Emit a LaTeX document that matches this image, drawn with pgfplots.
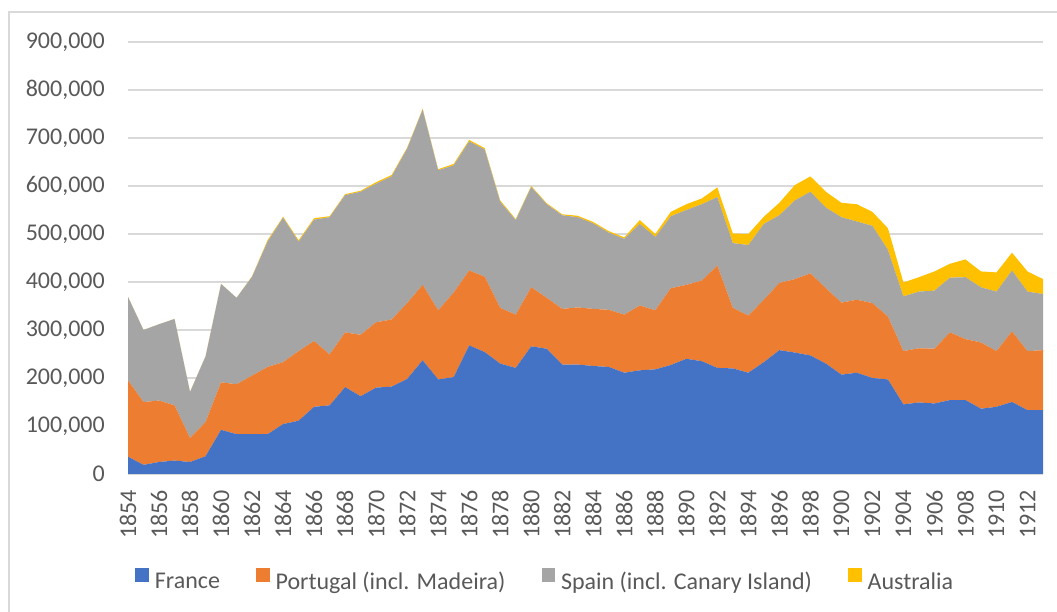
\documentclass[border=0pt]{standalone}
\usepackage{pgfplots}
\usepackage{pgfplotstable}
\pgfplotsset{compat=1.18}
\usepackage{fontspec}
\setmainfont{Carlito}
\definecolor{cFr}{HTML}{4472C4}
\definecolor{cPt}{HTML}{ED7D31}
\definecolor{cSp}{HTML}{A5A5A5}
\definecolor{cAu}{HTML}{FFC000}
\definecolor{grid}{HTML}{D9D9D9}
\definecolor{txt}{HTML}{595959}
\pgfplotstableread{
year France Portugal Spain Australia
1854 36000 159000 174000 0
1855 19000 131000 150000 0
1856 25000 128000 159000 0
1857 28000 115000 180000 0
1858 25000 50000 96000 0
1859 37000 71000 137000 0
1860 92000 99000 205000 0
1861 83000 104000 180000 0
1862 83000 122000 206000 1000
1863 83000 140000 261000 3000
1864 104000 129000 301000 2000
1865 111000 145000 228000 3000
1866 140000 137000 253000 3000
1867 143000 106000 286000 2000
1868 181000 114000 286000 2000
1869 162000 128000 298000 2000
1870 180000 136000 289000 3000
1871 182000 140000 298000 3000
1872 198000 158000 322000 2000
1873 237000 157000 365000 2000
1874 197000 144000 292000 2000
1875 202000 176000 265000 3000
1876 268000 156000 269000 3000
1877 254000 157000 265000 3000
1878 230000 116000 221000 3000
1879 221000 111000 197000 2000
1880 266000 123000 209000 2000
1881 261000 106000 195000 2000
1882 228000 116000 195000 2000
1883 228000 119000 188000 3000
1884 225000 119000 178000 3000
1885 223000 119000 161000 3000
1886 211000 121000 158000 3000
1887 216000 135000 170000 8000
1888 218000 123000 153000 6000
1889 227000 160000 150000 9000
1890 240000 154000 156000 12000
1891 235000 168000 159000 12000
1892 221000 213000 143000 20000
1893 220000 126000 135000 20000
1894 211000 119000 147000 23000
1895 233000 130000 158000 15000
1896 258000 140000 141000 26000
1897 253000 153000 164000 32000
1898 247000 171000 170000 32000
1899 230000 157000 168000 33000
1900 207000 150000 178000 30000
1901 211000 152000 163000 36000
1902 200000 156000 161000 29000
1903 197000 131000 139000 45000
1904 145000 111000 114000 29000
1905 149000 113000 118000 30000
1906 147000 114000 121000 40000
1907 154000 141000 114000 29000
1908 154000 127000 129000 37000
1909 136000 138000 115000 33000
1910 140000 116000 124000 40000
1911 150000 147000 127000 37000
1912 133000 123000 124000 42000
1913 133000 125000 117000 31000
}\datatable
\begin{document}
\begin{tikzpicture}[x=1pt,y=1pt]
\path[use as bounding box] (0,0) rectangle (1057,612);
\draw[grid, line width=1.3pt] (9,0) -- (9,600) -- (1057,600);
\begin{axis}[
  at={(128pt,138pt)}, anchor=south west,
  scale only axis, width=915pt, height=432pt,
  xmin=1854, xmax=1913, ymin=0, ymax=900000,
  stack plots=y,
  xtick={1854,1856,...,1912},
  ytick={0,100000,...,900000},
  scaled y ticks=false,
  major tick length=0pt,
  separate axis lines,
  x axis line style={draw=grid, line width=1.3pt},
  y axis line style={draw=none},
  ymajorgrids,
  grid style={draw=grid, line width=1.3pt},
  /pgf/number format/assume math mode=true,
  yticklabel style={/pgf/number format/.cd, fixed, 1000 sep={,}, /tikz/.cd, font=\fontsize{24}{24}\selectfont, text=txt, inner sep=0pt},
  yticklabel shift=23pt,
  xticklabel style={/pgf/number format/.cd, 1000 sep={}, /tikz/.cd, rotate=90, anchor=east, font=\fontsize{24}{24}\selectfont, text=txt, inner sep=0pt},
  xticklabel shift=16pt,
  legend columns=4,
  legend style={at={(0.455,-0.245)}, anchor=center, draw=none, fill=none,
    font=\fontsize{24}{24}\selectfont, text=txt,
    nodes={inner sep=0pt},
    /tikz/every odd column/.append style={column sep=6pt},
    /tikz/every even column/.append style={column sep=36pt}},
  legend image code/.code={\fill[#1] (0pt,0pt) rectangle (13.5pt,13.5pt);},
]
\addplot[fill=cFr, draw=none] table[x=year, y=France] {\datatable} \closedcycle;
\addlegendentry{France}
\addplot[fill=cPt, draw=none] table[x=year, y=Portugal] {\datatable} \closedcycle;
\addlegendentry{Portugal (incl. Madeira)}
\addplot[fill=cSp, draw=none] table[x=year, y=Spain] {\datatable} \closedcycle;
\addlegendentry{Spain (incl. Canary Island)}
\addplot[fill=cAu, draw=none] table[x=year, y=Australia] {\datatable} \closedcycle;
\addlegendentry{Australia}
\end{axis}
\end{tikzpicture}
\end{document}
